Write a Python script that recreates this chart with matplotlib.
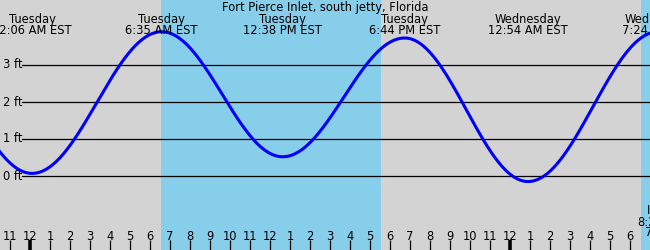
import numpy as np
import matplotlib
matplotlib.use("Agg")
import matplotlib.pyplot as plt
import matplotlib.transforms as mtransforms

# ---- data (hours from Tuesday midnight, EST) ----
title = "Fort Pierce Inlet, south jetty, Florida"
ext_hours = [-6.1, 0.1, 6.583, 12.633, 18.733, 24.9, 31.4, 37.6]
ext_heights = [3.80, 0.07, 3.90, 0.52, 3.73, -0.15, 3.90, 0.35]
label_hours = [0.1, 6.583, 12.633, 18.733, 24.9, 31.4]
label_days = ["Tuesday", "Tuesday", "Tuesday", "Tuesday", "Wednesday", "Wednesday"]
label_times = ["12:06 AM EST", "6:35 AM EST", "12:38 PM EST", "6:44 PM EST",
               "12:54 AM EST", "7:24 AM EST"]
daylight = [(6.55, 17.55), (30.55, 41.5)]
hour_ticks = list(range(-1, 31))
hour_labels = [str((h - 1) % 12 + 1) for h in hour_ticks]
midnights = [0, 24]
ft_levels = [0, 1, 2, 3]
ft_labels = ["0 ft", "1 ft", "2 ft", "3 ft"]
edge_lines = ["I", "8:2", "7"]

W, H = 650, 250
fig = plt.figure(figsize=(W / 100, H / 100), dpi=100)
ax = fig.add_axes([0, 0, 1, 1])
ax.set_xlim(-1.5, 31.0)
ax.set_ylim(-2.0, 176 / 37)
ax.axis("off")
fig.patch.set_facecolor("#d3d3d3")
ax.add_patch(plt.Rectangle((0, 0), 1, 1, transform=ax.transAxes, color="#d3d3d3", zorder=0))

for a, b in daylight:
    ax.axvspan(a, b, color="#87ceeb", zorder=1, lw=0)

# horizontal lines + labels
ytr = mtransforms.blended_transform_factory(ax.transAxes, ax.transData)
for lv, lb in zip(ft_levels, ft_labels):
    ax.axhline(lv, xmin=22 / W, xmax=1, color="black", lw=0.9, zorder=2)
    ax.text(3 / W, lv, lb, transform=ytr, ha="left", va="center", fontsize=8.3,
            color="black", zorder=3)

# tide curve (cosine between successive extremes)
hs, vs = [], []
for i in range(len(ext_hours) - 1):
    t0, t1 = ext_hours[i], ext_hours[i + 1]
    v0, v1 = ext_heights[i], ext_heights[i + 1]
    t = np.linspace(t0, t1, 80)
    ph = (t - t0) / (t1 - t0)
    hs.append(t)
    vs.append(v1 + (v0 - v1) * (1 + np.cos(np.pi * ph)) / 2)
ax.plot(np.concatenate(hs), np.concatenate(vs), color="#0000ff", lw=2.2, zorder=4,
        solid_capstyle="round")

# top labels
ax.text(0.5, 1 - 7 / H, title, transform=ax.transAxes, ha="center", va="center",
        fontsize=8.3, zorder=5)
btr = mtransforms.blended_transform_factory(ax.transData, ax.transAxes)
for h, d, t in zip(label_hours, label_days, label_times):
    ax.text(h, 1 - 20 / H, d, transform=btr, ha="center", va="center", fontsize=8.3, zorder=5)
    ax.text(h, 1 - 31 / H, t, transform=btr, ha="center", va="center", fontsize=8.3, zorder=5)

# bottom hour ticks
for h, lb in zip(hour_ticks, hour_labels):
    lw = 2.6 if h in midnights else 0.9
    ax.plot([h, h], [0, 10 / H], transform=btr, color="black", lw=lw,
            solid_capstyle="butt", zorder=5)
    ax.text(h, 10.5 / H, lb, transform=btr, ha="center", va="baseline", fontsize=8.3, zorder=5)

# partially visible label at right edge
for (xp, yp), s in zip([(647, 211), (637, 222), (645, 232)], edge_lines):
    ax.text(xp / W, 1 - yp / H, s, transform=ax.transAxes, ha="left", va="center",
            fontsize=8.3, zorder=5)

fig.savefig("out.png", dpi=100, facecolor="#d3d3d3")
